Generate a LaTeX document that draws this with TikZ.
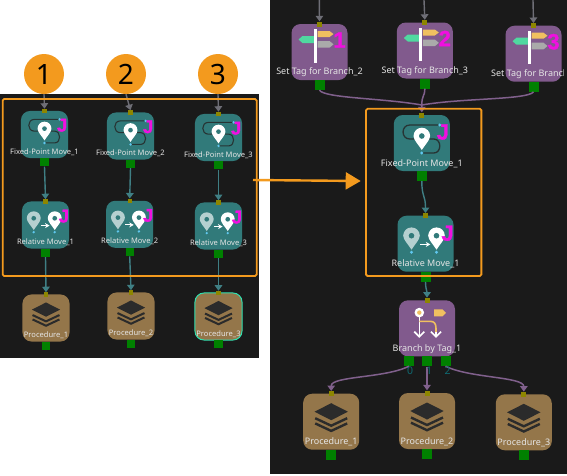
\documentclass[tikz,border=0pt]{standalone}
\usepackage{fontspec}
\setmainfont{Noto Sans}
\newfontfamily\magfont[BoldFeatures={FakeBold=1.5}]{Liberation Sans}
\usetikzlibrary{arrows.meta}
\definecolor{bgdark}{HTML}{1A1A1A}
\definecolor{tealc}{HTML}{317A7A}
\definecolor{purpc}{HTML}{815A8D}
\definecolor{brownc}{HTML}{94764A}
\definecolor{orangec}{HTML}{F39A1E}
\definecolor{magc}{HTML}{F010E0}
\definecolor{dotc}{HTML}{60C8F0}
\definecolor{linkgrey}{HTML}{6E6E76}
\definecolor{linkteal}{HTML}{3F7F84}
\definecolor{linkpurp}{HTML}{80608C}
\definecolor{amberc}{HTML}{F0C060}
\definecolor{greenc}{HTML}{50D8A0}
\definecolor{stonec}{HTML}{AAAAAA}
\definecolor{dullpin}{HTML}{B5D0D0}
\definecolor{selc}{HTML}{30E0B0}
\definecolor{stack}{HTML}{2B2B2B}
\definecolor{portnum}{HTML}{0F6A72}
\def\gs{1}
\tikzset{
  box/.style={rectangle,rounded corners=9,minimum size=56,inner sep=0},
  tealbox/.style={box,fill=tealc},
  purpbox/.style={box,fill=purpc},
  brownbox/.style={box,fill=brownc},
  selbox/.style={box,fill=brownc,draw=selc,line width=1},
  lab/.style={text=white!90!black,font=\fontsize{9}{10}\selectfont,inner sep=0},
  outp/.style={rectangle,fill=green!50!black,minimum size=10,inner sep=0},
  inp/.style={rectangle,fill=olive,minimum size=5,inner sep=0},
  mag/.style={text=magc,font=\magfont\bfseries\fontsize{22}{22}\selectfont,inner sep=0},
  numcirc/.style={circle,fill=orangec,minimum size=40,inner sep=0,font=\fontsize{28}{28}\selectfont,text=black},
  frm/.style={rectangle,draw=orangec,line width=1.8,rounded corners=1.5,inner sep=0},
  portlab/.style={text=portnum,font=\fontsize{10.5}{11}\selectfont,inner sep=0},
  lgrey/.style={draw=linkgrey,line width=1.4,-{Triangle[width=7.5,length=5.5]}},
  lteal/.style={draw=linkteal,line width=1.4,-{Triangle[width=7.5,length=5.5]}},
  lpurp/.style={draw=linkpurp,line width=1.5,-{Triangle[width=7.5,length=5.5]}},
  lpurpn/.style={draw=linkpurp,line width=1.5},
}
\newcommand\pinicon[4]{% x, y, colour, hole
  \fill[#3] (#1-8.3,#2) .. controls (#1-8.3,#2-4.6) and (#1-4.6,#2-8.3) .. (#1,#2-8.3)
    .. controls (#1+4.6,#2-8.3) and (#1+8.3,#2-4.6) .. (#1+8.3,#2)
    .. controls (#1+8.3,#2+4) and (#1+3,#2+9) .. (#1,#2+14)
    .. controls (#1-3,#2+9) and (#1-8.3,#2+4) .. (#1-8.3,#2) -- cycle;
  \fill[#4] (#1,#2) circle[radius=2.8];
}
\newcommand\fpicon{%
  \draw[stack!90!teal,line width=1.3*\gs pt] (18,-18) -- (-12,-18)
    .. controls (-21,-18) and (-21,-4) .. (-12,-4) -- (12,-4)
    .. controls (20,-4) and (20,10) .. (12,10) -- (0,10);
  \pinicon{0}{-7}{white}{tealc}
  \fill[dotc] (18,-18) circle[radius=1.6] (0,10) circle[radius=1.6];
  \node[mag] at (21,-11) {J};
}
\newcommand\rmicon{%
  \pinicon{-14}{-8}{dullpin}{tealc}
  \pinicon{11}{-8}{white}{tealc}
  \fill[dotc] (-14,8.5) circle[radius=1.6] (11,8.5) circle[radius=1.6];
  \draw[white,line width=1.3*\gs pt,-{Stealth[length=4.5,width=5]}] (-5.5,0.7) -- (4.8,0.7);
  \node[mag] at (22,-10.5) {J};
}
\newcommand\tagicon[1]{%
  \fill[greenc] (-5,-16) -- (-17,-16) -- (-21,-12.5) -- (-17,-9) -- (-5,-9) -- cycle;
  \fill[amberc] (-2,-21) -- (10,-21) -- (14,-18) -- (10,-15) -- (-2,-15) -- cycle;
  \fill[stonec] (-2,-11) -- (10,-11) -- (14,-7.7) -- (10,-4.3) -- (-2,-4.3) -- cycle;
  \fill[white] (-5.5,-23) rectangle (-2.5,10.5);
  \node[mag] at (20,-12) {#1};
}
\newcommand\branchicon{%
  \draw[white,line width=1.6,-{Straight Barb[length=5,width=10]}] (-7.7,-11) -- (-7.7,9.5);
  \draw[amberc,line width=1.6] (-7.7,-7) -- (3,-7) .. controls (7,-7) and (9,-5) .. (9,0) -- (9,6);
  \draw[white,line width=1.6,-{Straight Barb[length=5,width=10]}] (9,4) -- (9,9.5);
  \fill[white] (-7.7,-15.7) circle[radius=4.8];
  \fill[amberc] (-7.7,-15.7) circle[radius=2.2];
  \fill[amberc] (7,-19) -- (15.5,-19) -- (19,-15.5) -- (15.5,-12) -- (7,-12) -- cycle;
}
\newcommand\stackicon{%
  \fill[stack] (0,-18.5) -- (16.7,-10) -- (0,-1.5) -- (-16.7,-10) -- cycle;
  \draw[stack,line width=2.4*\gs pt] (-16,-3.5) -- (0,4) -- (16,-3.5);
  \draw[stack,line width=2.4*\gs pt] (-16,1.7) -- (0,9.2) -- (16,1.7);
}
\newcommand\modbox[6]{% name, cx, cy, box style, icon, label
  \begin{scope}[shift={(#2,#3)},scale=\gs,transform shape]
    \node[#4] (#1) at (0,0) {};
    #5
    \node[lab] at (0,20.5) {#6};
    \node[outp] (#1-out) at (0,33) {};
    \node[inp] (#1-in) at (0,-28) {};
  \end{scope}
}
\begin{document}
\begin{tikzpicture}[x=1pt,y=-1pt]
\useasboundingbox (0,0) rectangle (567,475);
\fill[white] (0,0) rectangle (567,475);
\fill[bgdark] (0,94) rectangle (259,358);
\fill[bgdark] (270,0) rectangle (567,473.5);

% ---- left panel
\def\gs{0.84}
\modbox{LA1}{44.5}{134.5}{tealbox}{\fpicon}{Fixed-Point Move\_1}
\modbox{LA2}{130.5}{136}{tealbox}{\fpicon}{Fixed-Point Move\_2}
\modbox{LA3}{218.5}{137.5}{tealbox}{\fpicon}{Fixed-Point Move\_3}
\modbox{LB1}{45.5}{225}{tealbox}{\rmicon}{Relative Move\_1}
\modbox{LB2}{129.7}{224.3}{tealbox}{\rmicon}{Relative Move\_2}
\modbox{LB3}{218.5}{226}{tealbox}{\rmicon}{Relative Move\_3}
\modbox{LC1}{46}{318}{brownbox}{\stackicon}{Procedure\_1}
\modbox{LC2}{131}{316}{brownbox}{\stackicon}{Procedure\_2}
\modbox{LC3}{218.5}{316.5}{selbox}{\stackicon}{Procedure\_3}

\node[numcirc] (N1) at (44,74) {1};
\node[numcirc] (N2) at (126,74) {2};
\node[numcirc] (N3) at (218,74) {3};

\draw[lgrey] (N1.south) -- (LA1-in.north);
\draw[lgrey] (N2.south) -- (LA2-in.north);
\draw[lgrey] (N3.south) -- (LA3-in.north);
\foreach \k in {1,2,3}{
  \draw[lteal] (LA\k-out.south) -- (LB\k-in.north);
  \draw[lteal] (LB\k-out.south) -- (LC\k-in.north);
}

% ---- right panel
\def\gs{1}
\modbox{RT2}{319.5}{52}{purpbox}{\tagicon{1}}{Set Tag for Branch\_2}
\modbox{RT3}{424.8}{50.5}{purpbox}{\tagicon{2}}{Set Tag for Branch\_3}
\modbox{RT1}{533.5}{53.7}{purpbox}{\tagicon{3}}{}
\begin{scope}
  \clip (485,60) rectangle (563,90);
  \node[lab,anchor=west] (RT1lab) at (491,74.2) {Set Tag for Branch};
\end{scope}
\modbox{RF}{421.8}{143}{tealbox}{\fpicon}{Fixed-Point Move\_1}
\modbox{RR}{425.5}{243.7}{tealbox}{\rmicon}{Relative Move\_1}
\modbox{RB}{427}{328.3}{purpbox}{\branchicon}{Branch by Tag\_1}
\node[outp] (RB-out0) at (409,361) {};
\node[outp] (RB-out2) at (445.5,361) {};
\modbox{RP1}{331.2}{421.7}{brownbox}{\stackicon}{Procedure\_1}
\modbox{RP2}{427}{421}{brownbox}{\stackicon}{Procedure\_2}
\modbox{RP3}{523.8}{422.3}{brownbox}{\stackicon}{Procedure\_3}

\coordinate (top2) at (319.3,0);
\coordinate (top3) at (424,0);
\coordinate (top1) at (533,0);
\draw[lgrey] (top2) -- (RT2-in.north);
\draw[lgrey] (top3) -- (RT3-in.north);
\draw[lgrey] (top1) -- (RT1-in.north);

\coordinate (merge) at (421.8,105);
\draw[lpurpn] (RT2-out.south) .. controls +(5,8) and +(-40,-7) .. (merge);
\draw[lpurpn] (RT1-out.south) .. controls +(-6,8) and +(40,-7) .. (merge);
\draw[lpurp] (RT3-out.south) .. controls +(0,8) and +(0,-10) .. (merge) -- (RF-in.north);

\draw[lteal] (RF-out.south) .. controls +(0,16) and +(0,-18) .. (RR-in.north);
\draw[lteal] (RR-out.south) .. controls +(0,6) and +(0,-6) .. (RB-in.north);

\draw[lpurp] (RB-out0.south) .. controls +(-24,12) and +(0,-15) .. (RP1-in.north);
\draw[lpurp] (RB-out.south) -- (RP2-in.north);
\draw[lpurp] (RB-out2.south) .. controls +(24,12) and +(0,-15) .. (RP3-in.north);

\node[portlab] (p0) at (410,371) {0};
\node[portlab] (p1) at (429,371) {1};
\node[portlab] (p2) at (447.7,371) {2};

% ---- frames and the arrow between them
\node[frm,minimum width=254,minimum height=177] (LF) at (129.7,187.5) {};
\node[frm,minimum width=115.3,minimum height=167.3] (RFr) at (423.7,192.4) {};
\coordinate (arrS) at (253,180);
\coordinate (arrE) at (360.7,181);
\draw[orangec,line width=2.4,-{Triangle[width=17,length=15]}] (arrS) -- (arrE);
\end{tikzpicture}
\end{document}
